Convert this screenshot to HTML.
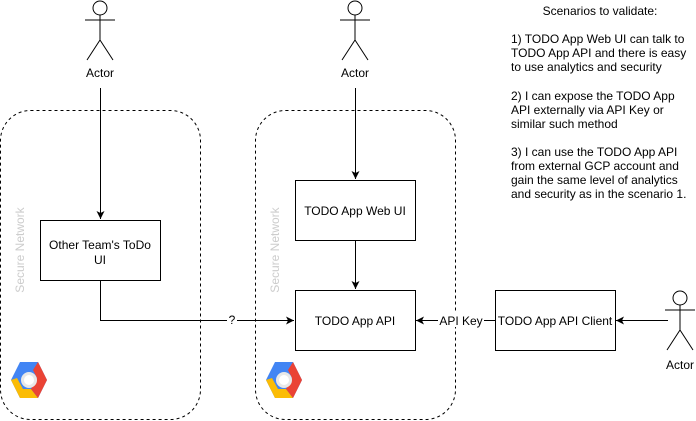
<!DOCTYPE html>
<html><head><style>body{margin:0;background:#fff}svg{display:block}text{font-family:"Liberation Sans",Helvetica,sans-serif;font-size:12px;fill:#000}</style></head>
<body>
<svg width="696" height="421" viewBox="0 0 696 421" xmlns="http://www.w3.org/2000/svg">
<defs>
<marker id="a" markerWidth="10" markerHeight="10" refX="8" refY="5" orient="auto" markerUnits="userSpaceOnUse"><path d="M0,1 L8,5 L0,9 L2,5 Z" fill="#000"/></marker>
<g id="logo">
<path d="M9,0 L27,0 L36,18 L27,36 L9,36 L0,18 Z" fill="#4285f4"/>
<path d="M0,18 L9,36 L27,36 L20,27 L12,27 L6,16 Z" fill="#fbbc05"/>
<path d="M27,0 L36,18 L27,36 L20,27 L26,16 L22,8 Z" fill="#ea4335"/>
<circle cx="18" cy="18" r="8" fill="#e8e8e8"/><circle cx="18" cy="18" r="5" fill="#fff"/>
</g>
<g id="actor" fill="none" stroke="#000" stroke-width="1">
<circle cx="0" cy="8" r="7" fill="#fff"/><path d="M0,15 V40 M-15,20 H15 M0,40 L-13,60 M0,40 L13,60"/>
</g>
</defs>
<rect x="0.5" y="110.5" width="200" height="309" rx="30" fill="none" stroke="#000" stroke-dasharray="3,3"/>
<rect x="255.5" y="110.5" width="200" height="309" rx="30" fill="none" stroke="#000" stroke-dasharray="3,3"/>
<text transform="translate(24,250) rotate(-90)" text-anchor="middle" style="fill:#ccc;font-size:12px">Secure Network</text>
<text transform="translate(279,250) rotate(-90)" text-anchor="middle" style="fill:#ccc;font-size:12px">Secure Network</text>
<use href="#logo" x="11" y="362"/>
<use href="#logo" x="266" y="362"/>
<use href="#actor" x="100" y="0"/>
<use href="#actor" x="355" y="0"/>
<use href="#actor" x="680" y="290"/>
<text x="100" y="77" text-anchor="middle">Actor</text>
<text x="355" y="77" text-anchor="middle">Actor</text>
<text x="680" y="369" text-anchor="middle">Actor</text>
<g fill="none" stroke="#000">
<path d="M100.5,88 V219" marker-end="url(#a)"/>
<path d="M355.5,88 V179" marker-end="url(#a)"/>
<path d="M355.5,241 V289" marker-end="url(#a)"/>
<path d="M100.5,281 V320.5 H294" marker-end="url(#a)"/>
<path d="M495,320.5 H416" marker-end="url(#a)"/>
<path d="M668,320.5 H616" marker-end="url(#a)"/>
</g>
<rect x="227" y="313" width="10" height="14" fill="#fff"/>
<text x="232" y="324" text-anchor="middle">?</text>
<rect x="438" y="313" width="46" height="14" fill="#fff"/>
<text x="461" y="325" text-anchor="middle">API Key</text>
<g fill="#fff" stroke="#000"><rect x="40.5" y="220.5" width="120" height="60"/><rect x="295.5" y="180.5" width="120" height="60"/><rect x="295.5" y="290.5" width="120" height="60"/><rect x="495.5" y="290.5" width="120" height="60"/></g>
<text x="100" y="249" text-anchor="middle">Other Team's ToDo</text>
<text x="100" y="264" text-anchor="middle">UI</text>
<text x="355" y="215" text-anchor="middle">TODO App Web UI</text>
<text x="355" y="325" text-anchor="middle">TODO App API</text>
<text x="555" y="325" text-anchor="middle">TODO App API Client</text>
<text x="600" y="15" text-anchor="middle">Scenarios to validate:</text>
<text x="511" y="43">1) TODO App Web UI can talk to</text>
<text x="511" y="57">TODO App API and there is easy</text>
<text x="511" y="71">to use analytics and security</text>
<text x="511" y="100">2) I can expose the TODO App</text>
<text x="511" y="114">API externally via API Key or</text>
<text x="511" y="128">similar such method</text>
<text x="511" y="156">3) I can use the TODO App API</text>
<text x="511" y="170">from external GCP account and</text>
<text x="511" y="184">gain the same level of analytics</text>
<text x="511" y="198">and security as in the scenario 1.</text>
</svg>
</body></html>
